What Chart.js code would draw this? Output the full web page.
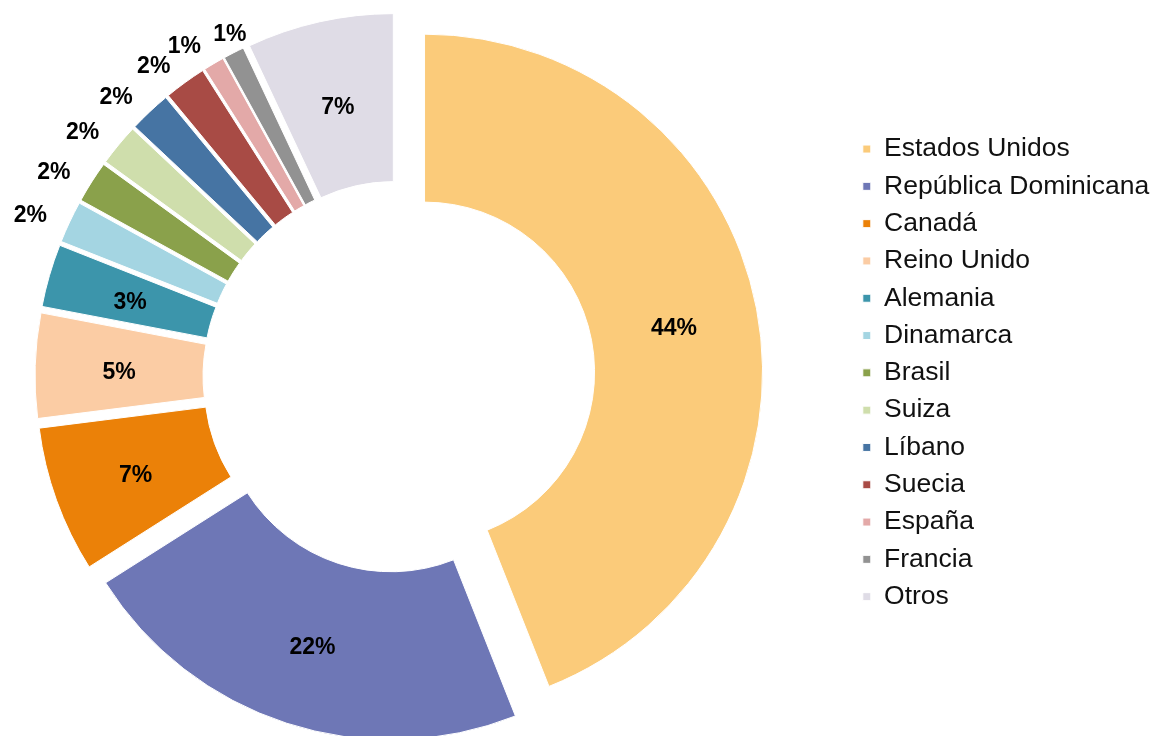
<!DOCTYPE html>
<html lang="es">
<head>
<meta charset="utf-8">
<title>Distribución por país</title>
<script src="https://cdn.jsdelivr.net/npm/chart.js@4.4.1/dist/chart.umd.min.js"></script>
<style>
  html, body { margin: 0; padding: 0; background: #fff; overflow: hidden; }
  /* el lienzo empieza un poco fuera de la página para que el anillo quede a la izquierda de la leyenda */
  #paisesChart { display: block; margin-left: -54px; }
</style>
</head>
<body>
<canvas id="paisesChart" width="1214" height="736"></canvas>
<script>
// Datos del gráfico
var paises = ['Estados Unidos', 'República Dominicana', 'Canadá', 'Reino Unido', 'Alemania', 'Dinamarca',
              'Brasil', 'Suiza', 'Líbano', 'Suecia', 'España', 'Francia', 'Otros'];
var porcentajes = [44, 22, 7, 5, 3, 2, 2, 2, 2, 2, 1, 1, 7];
var colores = ['#FBCB7A', '#6E77B6', '#EB8108', '#FBCCA4', '#3C95AB', '#A4D5E2',
               '#8AA14B', '#CFDEAC', '#4674A3', '#A84B45', '#E3A9A8', '#929292', '#DFDCE6'];

var FUENTE = '"Liberation Sans", Arial, sans-serif';
var SEPARACION = 26; // cuánto se aleja cada porción del centro (px)
var BAJAR_TEXTO = 4; // las etiquetas quedan un poco por debajo del punto calculado

// Separa todas las porciones la misma distancia, en la dirección de su ángulo medio
var separarPorciones = {
    id: 'separarPorciones',
    afterDatasetUpdate: function (chart, args) {
        chart.getDatasetMeta(args.index).data.forEach(function (arco) {
            var medio = (arco.startAngle + arco.endAngle) / 2;
            arco.x += Math.cos(medio) * SEPARACION;
            arco.y += Math.sin(medio) * SEPARACION;
        });
    }
};

// Etiquetas con el porcentaje: dentro de las porciones grandes, fuera de las pequeñas
var etiquetas = {
    id: 'etiquetas',
    afterDatasetsDraw: function (chart) {
        var ctx = chart.ctx;
        var arcos = chart.getDatasetMeta(0).data;
        var datos = chart.data.datasets[0].data;
        var total = datos.reduce(function (a, b) { return a + b; }, 0);
        var fuera = [];

        ctx.save();
        ctx.font = 'bold 23px ' + FUENTE;
        ctx.fillStyle = '#000';
        ctx.textBaseline = 'middle';

        ctx.textAlign = 'center';
        arcos.forEach(function (arco, i) {
            var p = arco.getProps(['x', 'y', 'startAngle', 'endAngle', 'innerRadius', 'outerRadius'], true);
            var medio = (p.startAngle + p.endAngle) / 2;
            var texto = Math.round(datos[i] / total * 100) + '%';
            if (datos[i] >= 3) {
                var r = (p.innerRadius + p.outerRadius) / 2;
                ctx.fillText(texto, p.x + Math.cos(medio) * r, p.y + Math.sin(medio) * r + BAJAR_TEXTO);
            } else {
                // fuera del anillo, con el borde derecho del texto sobre el radio medio
                var rf = p.outerRadius + 25;
                fuera.push({ texto: texto, ancho: ctx.measureText(texto).width,
                             x: p.x + Math.cos(medio) * rf, y: p.y + Math.sin(medio) * rf + BAJAR_TEXTO });
            }
        });

        // si una etiqueta pisa a la anterior, se corre hacia la derecha
        function seTocan(a, b) {
            return a.x - a.ancho < b.x + 12 && b.x - b.ancho < a.x + 12 && Math.abs(a.y - b.y) < 19;
        }
        for (var k = 1; k < fuera.length; k++) {
            var n = 0;
            while (seTocan(fuera[k - 1], fuera[k]) && n < 200) {
                fuera[k].x += 0.5;
                n++;
            }
        }

        ctx.textAlign = 'right';
        fuera.forEach(function (e) {
            ctx.fillText(e.texto, e.x, e.y);
        });
        ctx.restore();
    }
};

document.addEventListener('DOMContentLoaded', function () {
    var ctx = document.getElementById('paisesChart').getContext('2d');
    new Chart(ctx, {
        type: 'doughnut',
        data: {
            labels: paises,
            datasets: [{
                data: porcentajes,
                backgroundColor: colores,
                borderColor: '#fff',
                borderWidth: 1,
                hoverOffset: 0,
                clip: false
            }]
        },
        options: {
            responsive: false,
            animation: false,
            events: [],
            radius: 338,
            cutout: '50.3%',
            layout: {
                padding: { left: 0, top: 125, right: 0.8, bottom: 107 }
            },
            plugins: {
                tooltip: { enabled: false },
                legend: {
                    position: 'right',
                    align: 'start',
                    labels: {
                        boxWidth: 8,
                        boxHeight: 8,
                        padding: 10.8,
                        color: '#111',
                        font: { family: FUENTE, size: 26.5 }
                    }
                }
            }
        },
        plugins: [separarPorciones, etiquetas]
    });
});
</script>
</body>
</html>
